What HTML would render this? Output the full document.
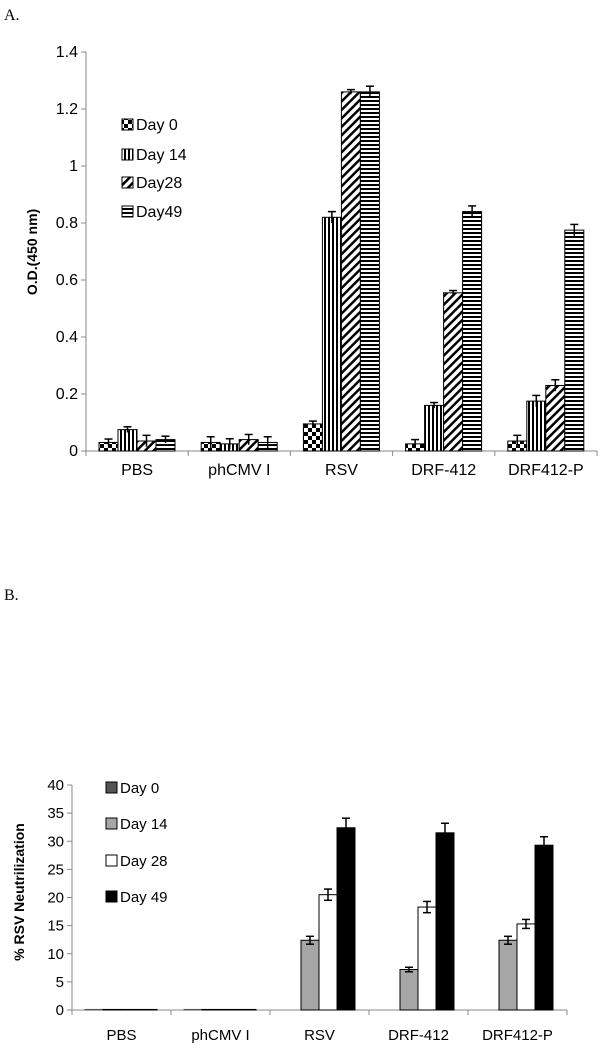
<!DOCTYPE html>
<html><head><meta charset="utf-8"><style>
body{margin:0;background:#fff;}
svg{display:block;font-family:"Liberation Sans",Arial,sans-serif;}
</style></head><body>
<svg id="c" width="600" height="1048">
<defs>
<pattern id="pChk" width="8" height="8" patternUnits="userSpaceOnUse"><rect width="8" height="8" fill="#fff"/><rect width="4" height="4" fill="#000"/><rect x="4" y="4" width="4" height="4" fill="#000"/></pattern>
<pattern id="pVert" width="4" height="4" patternUnits="userSpaceOnUse"><rect width="4" height="4" fill="#fff"/><rect width="2" height="4" fill="#000"/></pattern>
<pattern id="pDiag" width="6" height="6" patternUnits="userSpaceOnUse" patternTransform="rotate(45)"><rect width="6" height="6" fill="#fff"/><rect width="2.5" height="6" fill="#000"/></pattern>
<pattern id="pHoriz" width="4" height="4" patternUnits="userSpaceOnUse"><rect width="4" height="4" fill="#fff"/><rect width="4" height="2" fill="#000"/></pattern>
</defs>
<text x="4" y="20" font-family="Liberation Serif" font-size="16">A.</text>
<text x="4" y="600" font-family="Liberation Serif" font-size="16">B.</text>
<g id="A"></g><g id="B"></g>
</svg>
<script>
const categories=["PBS","phCMV I","RSV","DRF-412","DRF412-P"];
const seriesNames=["Day 0","Day 14","Day28","Day49"];
const aDay0=[0.03,0.03,0.095,0.025,0.035];
const aDay14=[0.075,0.025,0.82,0.16,0.175];
const aDay28=[0.035,0.04,1.26,0.555,0.23];
const aDay49=[0.04,0.03,1.26,0.84,0.775];
const aErr0=[0.012,0.02,0.01,0.015,0.02];
const aErr14=[0.01,0.018,0.02,0.01,0.02];
const aErr28=[0.02,0.018,0.008,0.008,0.02];
const aErr49=[0.012,0.02,0.02,0.02,0.02];
const aTicks=["0","0.2","0.4","0.6","0.8","1","1.2","1.4"];
const bSeriesNames=["Day 0","Day 14","Day 28","Day 49"];
const bDay0=[0.1,0.1,0,0,0];
const bDay14=[0.1,0.1,12.4,7.2,12.4];
const bDay28=[0.1,0.1,20.5,18.3,15.3];
const bDay49=[0.1,0.1,32.4,31.5,29.3];
const bErr14=[0,0,0.7,0.4,0.7];
const bErr28=[0,0,1.0,1.0,0.8];
const bErr49=[0,0,1.7,1.7,1.5];
const bTicks=["0","5","10","15","20","25","30","35","40"];

const NS="http://www.w3.org/2000/svg";
function mk(p,t,a){const e=document.createElementNS(NS,t);for(const k in a)e.setAttribute(k,a[k]);p.appendChild(e);return e;}

function chart(g,o){
 const x0=o.x0,x1=o.x1,y0=o.y0,y1=o.y1,max=o.max;
 const cw=(x1-x0)/categories.length;
 const ys=v=>y0-(v/max)*(y0-y1);
 let ax=mk(g,'line',{x1:x0,y1:y1,x2:x0,y2:y0,stroke:'#888'});
 
 
 let xa=mk(g,'line',{x1:x0,y1:y0,x2:x1,y2:y0,stroke:'#888'});
 
 
 o.ticks.forEach((t,i)=>{
  const v=parseFloat(t),y=ys(v);
  mk(g,'line',{x1:x0-5,y1:y,x2:x0,y2:y,stroke:'#888'});
  const tx=mk(g,'text',{x:x0-8,y:y+5,'text-anchor':'end','font-size':o.fs});
  tx.textContent=t;
  
  
 });
 for(let c=0;c<=categories.length;c++){mk(g,'line',{x1:x0+c*cw,y1:y0,x2:x0+c*cw,y2:y0+5,stroke:'#888'});}
 categories.forEach((cat,c)=>{
  const tx=mk(g,'text',{x:x0+c*cw+cw/2,y:y0+o.labOff,'text-anchor':'middle','font-size':o.fs});
  tx.textContent=cat;
  
  
  o.series.forEach((s,k)=>{
   const v=s[c];
   const bx=x0+c*cw+o.off+k*o.bw,by=ys(v);
   const r=mk(g,'rect',{x:bx,y:by,width:o.bw,height:Math.max(0,y0-by),fill:o.fills[k],stroke:o.strokes[k],'stroke-width':1});
   
   
   const e=o.errs[k]?o.errs[k][c]:0;
   if(e>0){
    const cx=bx+o.bw/2;
    mk(g,'line',{x1:cx,y1:ys(v+e),x2:cx,y2:ys(v-e),stroke:'#000','stroke-width':1.5});
    mk(g,'line',{x1:cx-4,y1:ys(v+e),x2:cx+4,y2:ys(v+e),stroke:'#000','stroke-width':1.5});
    if(o.lowCap)mk(g,'line',{x1:cx-4,y1:ys(v-e),x2:cx+4,y2:ys(v-e),stroke:'#000','stroke-width':1.5});
   }
  });
 });
 const yt=mk(g,'text',{x:0,y:0,'text-anchor':'middle','font-size':14,'font-weight':'bold',transform:`translate(${o.titleX},${o.titleY}) rotate(-90)`});
 yt.textContent=o.title;
 
 
 o.names.forEach((n,k)=>{
  const ly=o.legY[k];
  const lg=mk(g,'g',{});
  
  
  mk(lg,'rect',{x:o.legX,y:ly-11,width:11,height:11,fill:o.fills[k],stroke:'#000'});
  const t=mk(lg,'text',{x:o.legX+14,y:ly,'font-size':o.fs});
  t.textContent=n;
 });
}
chart(document.getElementById('A'),{x0:86,x1:597,y0:451,y1:52,max:1.4,ticks:aTicks,fs:16,
 series:[aDay0,aDay14,aDay28,aDay49],errs:[aErr0,aErr14,aErr28,aErr49],
 fills:['url(#pChk)','url(#pVert)','url(#pDiag)','url(#pHoriz)'],strokes:['#000','#000','#000','#000'],
 bw:19,off:13,labOff:24,lowCap:false,title:'O.D.(450 nm)',titleX:37,titleY:252,
 names:seriesNames,legX:122,legY:[130,160,188,217]});
chart(document.getElementById('B'),{x0:72,x1:567,y0:1010,y1:785,max:40,ticks:bTicks,fs:15,
 series:[bDay0,bDay14,bDay28,bDay49],errs:[null,bErr14,bErr28,bErr49],
 fills:['#555','#a6a6a6','#fff','#000'],strokes:['#555','#000','#000','#000'],
 bw:18,off:13,labOff:30,lowCap:true,title:'% RSV Neutrilization',titleX:24,titleY:892,
 names:bSeriesNames,legX:106,legY:[793,829,866,902]});
</script>
</body></html>
